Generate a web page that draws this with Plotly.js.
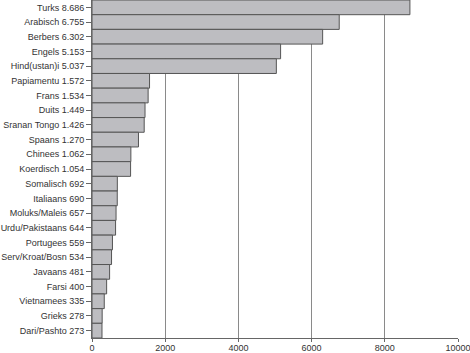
<!DOCTYPE html>
<html>
<head>
<meta charset="utf-8">
<script src="https://cdn.plot.ly/plotly-3.0.1.min.js"></script>
<style>html,body{margin:0;padding:0;background:#fff;}#chart{width:470px;height:353px;}</style>
</head>
<body>
<div id="chart"></div>
<script>
const languages = ["Turks","Arabisch","Berbers","Engels","Hind(ustan)i","Papiamentu","Frans","Duits","Sranan Tongo","Spaans","Chinees","Koerdisch","Somalisch","Italiaans","Moluks/Maleis","Urdu/Pakistaans","Portugees","Serv/Kroat/Bosn","Javaans","Farsi","Vietnamees","Grieks","Dari/Pashto"];
const values = [8686,6755,6302,5153,5037,1572,1534,1449,1426,1270,1062,1054,692,690,657,644,559,534,481,400,335,278,273];
const xTicks = [0,2000,4000,6000,8000,10000];

function fmt(v){ return String(v).replace(/\B(?=(\d{3})+(?!\d))/g, "."); }
const labels = languages.map((l,i) => l + " " + fmt(values[i]));

Plotly.newPlot("chart", [{
  type: "bar",
  orientation: "h",
  x: values,
  y: labels,
  marker: {color: "#bdbdc1", line: {color: "#555555", width: 1}},
  hoverinfo: "none"
}], {
  width: 470, height: 353,
  margin: {l: 92, r: 12, t: 0, b: 15, pad: 0},
  paper_bgcolor: "#fff", plot_bgcolor: "#fff",
  bargap: 0,
  showlegend: false,
  font: {family: "Liberation Sans, Arial, sans-serif", size: 9, color: "#333"},
  xaxis: {
    range: [0, 10000], tickvals: xTicks, ticktext: xTicks.map(String),
    showgrid: true, gridcolor: "#8a8a8a", gridwidth: 1,
    zeroline: false, showline: true, linecolor: "#666", linewidth: 1,
    ticks: "outside", ticklen: 3, tickcolor: "#666",
    ticklabelstandoff: -2, ticklabeloverflow: "allow",
    tickfont: {size: 9, color: "#333"}, fixedrange: true
  },
  yaxis: {
    autorange: "reversed", type: "category",
    showgrid: false, zeroline: false, showline: true, linecolor: "#666", linewidth: 1,
    ticks: "outside", ticklen: 5, tickcolor: "#666",
    tickfont: {size: 9, color: "#333"}, fixedrange: true
  }
}, {displayModeBar: false, staticPlot: true});
</script>
</body>
</html>
